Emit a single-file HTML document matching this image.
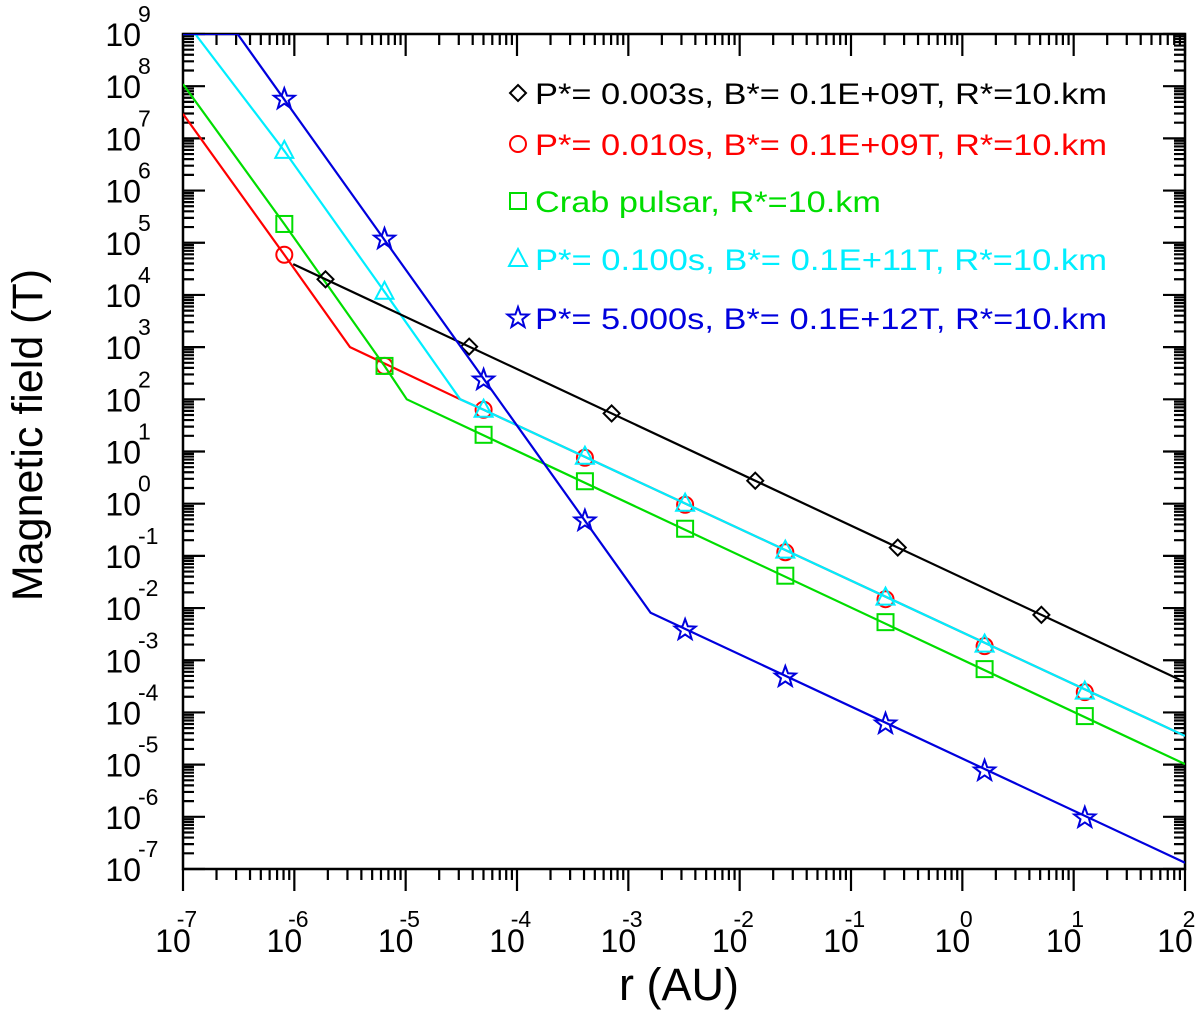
<!DOCTYPE html>
<html><head><meta charset="utf-8"><style>
body{margin:0;background:#fff}
svg text{font-family:"Liberation Sans",Arial,sans-serif}
</style></head><body>
<svg id="chart" width="1200" height="1016" viewBox="0 0 1200 1016" xmlns="http://www.w3.org/2000/svg">
<g id="axes"></g>
<g id="series"></g>
<g id="legend"></g>
<text x="0" y="0" transform="translate(42,435) rotate(-90)" text-anchor="middle" font-size="43">Magnetic field (T)</text>
<text x="679" y="1000" text-anchor="middle" font-size="45">r (AU)</text>
</svg>
<script>
const xTicks=[-7,-6,-5,-4,-3,-2,-1,0,1,2];
const yTicks=[-7,-6,-5,-4,-3,-2,-1,0,1,2,3,4,5,6,7,8,9];
// log10 values
const blackLineR=[-6.01,2], blackLineB=[4.59,-3.42];
const blackMarkR=[-5.72,-4.43,-3.15,-1.86,-0.58,0.71], blackMarkB=[4.30,3.01,1.73,0.44,-0.84,-2.13];
const redLineR=[-7,-6.09,-5.5,-4.51,-4.30,2], redLineB=[7.47,4.77,3.0,2.0,1.80,-4.45];
const redMarkR=[-6.09,-5.19,-4.30,-3.39,-2.49,-1.59,-0.69,0.20,1.10], redMarkB=[4.77,2.64,1.80,0.88,-0.02,-0.93,-1.83,-2.73,-3.61];
const greenLineR=[-7,-6.09,-5.19,-4.99,2], greenLineB=[8.04,5.36,2.64,2.0,-4.99];
const greenMarkR=[-6.09,-5.19,-4.30,-3.39,-2.49,-1.59,-0.69,0.20,1.10], greenMarkB=[5.36,2.64,1.32,0.43,-0.48,-1.38,-2.27,-3.17,-4.07];
const cyanLineR=[-7,-6.89,-6.09,-5.19,-4.51,-4.30,2], cyanLineB=[9,9,6.76,4.06,2.0,1.80,-4.45];
const cyanMarkR=[-6.09,-5.19,-4.30,-3.39,-2.49,-1.59,-0.69,0.20,1.10], cyanMarkB=[6.76,4.06,1.80,0.90,0.0,-0.90,-1.80,-2.70,-3.60];
const blueLineR=[-7,-6.51,-2.80,2], blueLineB=[9,9,-2.09,-6.88];
const blueMarkR=[-6.09,-5.19,-4.30,-3.39,-2.49,-1.59,-0.69,0.20,1.10], blueMarkB=[7.75,5.07,2.37,-0.33,-2.42,-3.32,-4.22,-5.12,-6.02];
const legendLabels=["P*= 0.003s, B*= 0.1E+09T, R*=10.km","P*= 0.010s, B*= 0.1E+09T, R*=10.km","Crab pulsar, R*=10.km","P*= 0.100s, B*= 0.1E+11T, R*=10.km","P*= 5.000s, B*= 0.1E+12T, R*=10.km"];

const X0=183,X1=1185,Y0=869,Y1=34;
const xs=v=>X0+(v+7)/9*(X1-X0);
const ys=v=>Y0-(v+7)/16*(Y0-Y1);
const NS="http://www.w3.org/2000/svg";
function mk(t,a,p){const e=document.createElementNS(NS,t);for(const k in a)e.setAttribute(k,a[k]);p.appendChild(e);return e;}
const axes=document.getElementById('axes');
const frame=mk('rect',{x:X0,y:Y1,width:X1-X0,height:Y0-Y1,fill:'none',stroke:'#000','stroke-width':2.5},axes);


let d='';
xTicks.forEach((t,i)=>{const x=xs(t);
 d+=`M${x},${Y0}v22M${x},${Y1}v22`;
 if(i<xTicks.length-1)for(let m=2;m<10;m++){const xm=xs(t+Math.log10(m));d+=`M${xm},${Y0}v11M${xm},${Y1}v11`;}
 const g=mk('text',{x:x-10,y:952,'text-anchor':'middle','font-size':32},axes);
 
 
 g.textContent='10';
 const s=mk('text',{x:x+4,y:927,'text-anchor':'middle','font-size':23},axes);
 
 
 s.textContent=String(t);
});
yTicks.forEach((t,i)=>{const y=ys(t);
 d+=`M${X0},${y}h22M${X1},${y}h-22`;
 if(i<yTicks.length-1)for(let m=2;m<10;m++){const ym=ys(t+Math.log10(m));d+=`M${X0},${ym}h11M${X1},${ym}h-11`;}
 const g=mk('text',{x:141,y:y+12,'text-anchor':'end','font-size':32},axes);
 
 
 g.textContent='10';
 const s=mk('text',{x:138,y:y-12,'text-anchor':'start','font-size':23},axes);
 
 
 s.textContent=String(t);
});
const tp=mk('path',{d:d,stroke:'#000','stroke-width':2.2,fill:'none'},axes);



function marker(type,x,y,c,p){
 let e;
 if(type==='diamond')e=mk('path',{d:`M${x},${y-8}L${x+8},${y}L${x},${y+8}L${x-8},${y}Z`},p);
 else if(type==='circle')e=mk('circle',{cx:x,cy:y,r:8},p);
 else if(type==='square')e=mk('rect',{x:x-8,y:y-8,width:16,height:16},p);
 else if(type==='triangle')e=mk('path',{d:`M${x},${y-10}L${x+9},${y+7}L${x-9},${y+7}Z`},p);
 else{let s='';for(let k=0;k<10;k++){const r=k%2?4.5:11,a=-Math.PI/2+k*Math.PI/5;s+=(k?'L':'M')+(x+r*Math.cos(a)).toFixed(1)+','+(y+r*Math.sin(a)).toFixed(1);}
  e=mk('path',{d:s+'Z'},p);}
 e.setAttribute('fill','none');e.setAttribute('stroke',c);e.setAttribute('stroke-width',2);
 return e;
}
const ser=document.getElementById('series');
const clip=mk('clipPath',{id:'cp'},ser);mk('rect',{x:X0,y:Y1,width:X1-X0,height:Y0-Y1},clip);
const defs=[
 ['red','#ff0000','circle',redLineR,redLineB,redMarkR,redMarkB],
 ['green','#00dd00','square',greenLineR,greenLineB,greenMarkR,greenMarkB],
 ['cyan','#00eeff','triangle',cyanLineR,cyanLineB,cyanMarkR,cyanMarkB],
 ['black','#000000','diamond',blackLineR,blackLineB,blackMarkR,blackMarkB],
 ['blue','#0000dd','star',blueLineR,blueLineB,blueMarkR,blueMarkB]];
defs.forEach(([n,c,t,lr,lb,mr,mb])=>{
 const g=mk('g',{'clip-path':'url(#cp)'},ser);
 
 
 const pl=mk('polyline',{points:lr.map((r,i)=>xs(r)+','+ys(lb[i])).join(' '),fill:'none',stroke:c,'stroke-width':2.2},g);
 
 
 mr.forEach((r,i)=>{const m=marker(t,xs(r),ys(mb[i]),c,g);
  
  });
});
const lg=document.getElementById('legend');
const lc=[['#000000','diamond'],['#ff0000','circle'],['#00dd00','square'],['#00eeff','triangle'],['#0000dd','star']];
const ly=[93,144,201,259,318];
legendLabels.forEach((s,i)=>{
 const g=mk('g',{},lg);
 
 
 marker(lc[i][1],518,ly[i],lc[i][0],g);
 const t=mk('text',{x:535,y:ly[i]+11,'font-size':30,fill:lc[i][0],textLength:i===2?346:572,lengthAdjust:'spacingAndGlyphs'},g);
 t.textContent=s;
});
</script>
</body></html>
